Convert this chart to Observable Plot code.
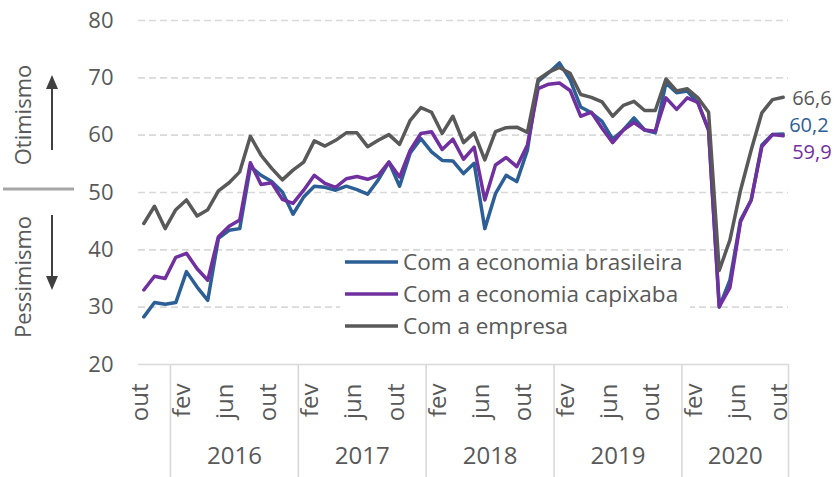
<!DOCTYPE html>
<html><head><meta charset="utf-8">
<script src="https://cdn.jsdelivr.net/npm/d3@7"></script>
<script src="https://cdn.jsdelivr.net/npm/@observablehq/plot@0.6"></script>
<style>
body{margin:0;background:#fff;}
#chart{width:837px;height:477px;}
</style></head><body><div id="chart"></div>
<script>
// Monthly index, Oct 2015 .. Oct 2020 (61 months)
const brasileira = [28.3,30.8,30.5,30.8,36.2,33.5,31.2,42.0,43.4,43.7,54.5,53.0,51.9,50.1,46.2,49.2,51.1,50.9,50.4,51.1,50.5,49.7,52.2,55.3,51.1,56.9,59.4,57.1,55.6,55.5,53.3,55.1,43.7,49.8,53.0,51.9,57.4,69.4,70.9,72.6,69.7,64.9,63.9,62.4,59.3,60.9,63.0,60.9,60.4,69.1,67.4,67.7,65.6,60.9,30.0,34.7,45.2,48.7,58.3,60.1,60.2];
const capixaba = [33.0,35.4,35.0,38.7,39.4,36.7,34.7,42.3,44.1,45.2,55.2,51.4,51.7,48.8,48.1,50.4,53.0,51.6,50.9,52.4,52.8,52.3,53.0,55.3,52.7,57.4,60.3,60.6,57.5,59.3,55.8,57.9,48.7,54.8,56.1,54.5,58.3,68.1,68.9,69.1,67.8,63.3,64.0,61.2,58.7,60.9,62.2,60.9,60.7,66.5,64.5,66.5,65.7,60.9,30.1,33.4,44.9,48.7,58.0,60.1,59.9];
const empresa = [44.6,47.6,43.7,47.0,48.7,45.9,47.0,50.3,51.7,53.6,59.8,56.5,54.2,52.2,53.9,55.3,59.0,58.1,59.1,60.4,60.4,58.0,59.1,60.1,58.4,62.6,64.8,64.0,60.3,63.3,58.7,60.4,55.7,60.6,61.3,61.4,60.5,69.7,71.0,71.8,70.8,67.1,66.6,65.8,63.3,65.2,65.9,64.3,64.3,69.8,67.7,68.1,66.5,64.0,36.4,41.7,50.4,57.4,63.9,66.2,66.6];

const seriesNames = ["Com a economia brasileira","Com a economia capixaba","Com a empresa"];
const seriesColors = ["#2d5f97","#7030a0","#595959"];
const monthTicks = ["out","fev","jun","out","fev","jun","out","fev","jun","out","fev","jun","out","fev","jun","out"];
const monthTickIndex = [0,4,8,12,16,20,24,28,32,36,40,44,48,52,56,60];
const years = ["2016","2017","2018","2019","2020"];
const yearStart = [3,15,27,39,51];
const yearEnd = [14,26,38,50,60];
const yTicks = [20,30,40,50,60,70,80];

const seriesValues = [brasileira, capixaba, empresa];
const rows = seriesValues.flatMap((arr, s) => arr.map((v, i) => ({i, v, s: seriesNames[s]})));
const separators = [yearStart[0] - 0.5, ...yearEnd.map(e => e + 0.5)];
const fmt = v => d3.format(".1f")(v).replace(".", ",");
const lastIdx = brasileira.length - 1;
const endLabels = [
  {v: empresa[lastIdx], c: seriesColors[2], dx: 9, dy: 1},
  {v: brasileira[lastIdx], c: seriesColors[0], dx: 6, dy: -8.5},
  {v: capixaba[lastIdx], c: seriesColors[1], dx: 9, dy: 17}
];

const FONT = "'Open Sans', sans-serif";
const chart = Plot.plot({
  width: 837, height: 477,
  marginLeft: 138, marginRight: 49, marginTop: 20, marginBottom: 113,
  x: {domain: [-0.5, lastIdx + 0.5], axis: null},
  y: {domain: [20, 80], axis: null},
  style: {fontFamily: FONT, color: "#595959", background: "white", overflow: "visible"},
  marks: [
    Plot.ruleY(yTicks.slice(1), {stroke: "#d9d9d9", strokeWidth: 1.6, strokeDasharray: "7,4"}),
    Plot.ruleY([yTicks[0]], {stroke: "#d9d9d9", strokeWidth: 1.6}),
    Plot.ruleX(separators, {stroke: "#d9d9d9", strokeWidth: 1.6, insetTop: 344, insetBottom: -113}),
    Plot.axisY({ticks: yTicks, tickSize: 0, tickPadding: 25, fontSize: 22, fill: "#595959", label: null}),
    Plot.text(monthTickIndex, {x: d => d, text: (d, k) => monthTicks[k], frameAnchor: "bottom", rotate: -90, textAnchor: "end", dy: 19, dx: 4, fontSize: 24, fill: "#595959"}),
    Plot.text(years, {x: (d, k) => (yearStart[k] + yearEnd[k]) / 2, text: d => d, frameAnchor: "bottom", dy: 99, fontSize: 24, fill: "#595959"}),
    Plot.line(rows, {x: "i", y: "v", z: "s", stroke: "s", strokeWidth: 3.5, strokeLinejoin: "round"}),
    ...endLabels.map(e => Plot.text([e], {x: lastIdx, y: "v", text: d => fmt(d.v), fill: e.c, dx: e.dx, dy: e.dy, textAnchor: "start", fontSize: 20}))
  ],
  color: {domain: seriesNames, range: seriesColors}
});
document.getElementById("chart").appendChild(chart);

// Legend and side annotations
const svg = d3.select(chart);
const leg = svg.append("g").attr("text-anchor", "start");
leg.append("rect").attr("x", 340).attr("y", 253).attr("width", 350).attr("height", 88).attr("fill", "white");
const legY = [262, 294, 326];
seriesNames.forEach((name, k) => {
  leg.append("line").attr("x1", 345).attr("x2", 398).attr("y1", legY[k]).attr("y2", legY[k])
    .attr("stroke", seriesColors[k]).attr("stroke-width", 3.5);
  leg.append("text").attr("x", 403).attr("y", legY[k]).attr("dy", "0.35em").attr("text-anchor", "start")
    .attr("font-family", FONT).attr("font-size", 22.5).attr("fill", "#595959").text(name);
});
const ann = svg.append("g").attr("font-family", FONT).attr("font-size", 22).attr("fill", "#595959");
ann.append("text").attr("transform", "translate(23,115) rotate(-90)").attr("text-anchor", "middle").attr("dy", "0.35em").text("Otimismo");
ann.append("text").attr("transform", "translate(23,277) rotate(-90)").attr("text-anchor", "middle").attr("dy", "0.35em").text("Pessimismo");
ann.append("line").attr("x1", 3).attr("x2", 74).attr("y1", 189).attr("y2", 189).attr("stroke", "#a6a6a6").attr("stroke-width", 3);
ann.append("line").attr("x1", 52).attr("x2", 52).attr("y1", 150).attr("y2", 88).attr("stroke", "#404040").attr("stroke-width", 2);
ann.append("path").attr("d", "M52,75 L46,89 L58,89 Z").attr("fill", "#404040");
ann.append("line").attr("x1", 52).attr("x2", 52).attr("y1", 215).attr("y2", 277).attr("stroke", "#404040").attr("stroke-width", 2);
ann.append("path").attr("d", "M52,290 L46,276 L58,276 Z").attr("fill", "#404040");
</script></body></html>
